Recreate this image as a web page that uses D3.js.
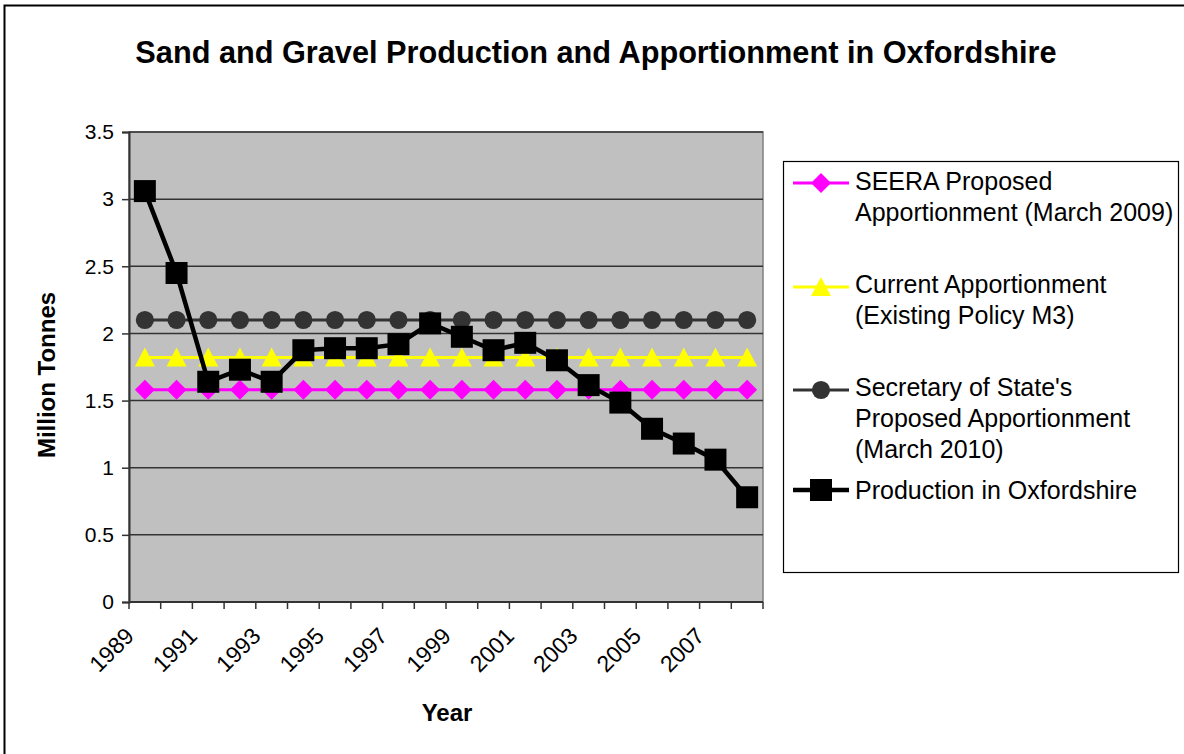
<!DOCTYPE html>
<html>
<head>
<meta charset="utf-8">
<script src="https://cdn.jsdelivr.net/npm/d3@7"></script>
<style>
  body { margin: 0; background: #fff; }
  text { font-family: "Liberation Sans", Arial, sans-serif; fill: #000; }
</style>
</head>
<body>
<svg width="1184" height="754"></svg>
<script>
// Years on the category axis
const years = d3.range(1989, 2009).map(String);

// Series values (million tonnes)
const seera = years.map(() => 1.58);
const current = years.map(() => 1.82);
const secState = years.map(() => 2.1);
const production = [3.06, 2.45, 1.64, 1.73, 1.64, 1.875, 1.89, 1.89, 1.92, 2.075,
                    1.975, 1.875, 1.93, 1.80, 1.615, 1.485, 1.29, 1.18, 1.06, 0.78];

const yTicks = [0, 0.5, 1, 1.5, 2, 2.5, 3, 3.5];
const xLabels = ["1989", "1991", "1993", "1995", "1997", "1999", "2001", "2003", "2005", "2007"];

const series = [
    { name: ["SEERA Proposed", "Apportionment (March 2009)"], values: seera, color: "#ff00ff", shape: "diamond", width: 3 },
    { name: ["Current Apportionment", "(Existing Policy M3)"], values: current, color: "#ffff00", shape: "triangle", width: 3 },
    { name: ["Secretary of State's", "Proposed Apportionment", "(March 2010)"], values: secState, color: "#333333", shape: "circle", width: 3 },
    { name: ["Production in Oxfordshire"], values: production, color: "#000000", shape: "square", width: 4.5 }
];

const svg = d3.select("svg");

// outer chart border (runs off the right and bottom edges)
svg.append("rect")
    .attr("x", 4.5).attr("y", 5.5)
    .attr("width", 1300).attr("height", 900)
    .attr("fill", "#fff")
    .attr("stroke", "#000")
    .attr("stroke-width", 2);

const plot = { left: 129, top: 132, right: 763, bottom: 602 };

const x = d3.scaleBand().domain(years).range([plot.left, plot.right]);
const y = d3.scaleLinear().domain([0, 3.5]).range([plot.bottom, plot.top]);

// plot background
svg.append("rect")
    .attr("x", plot.left).attr("y", plot.top)
    .attr("width", plot.right - plot.left).attr("height", plot.bottom - plot.top)
    .attr("fill", "#c0c0c0")
    .attr("stroke", "#808080")
    .attr("stroke-width", 1.5);

// gridlines
svg.append("g")
    .selectAll("line")
    .data(yTicks.slice(1))
    .join("line")
    .attr("x1", plot.left).attr("x2", plot.right)
    .attr("y1", d => y(d)).attr("y2", d => y(d))
    .attr("stroke", "#333")
    .attr("stroke-width", 1.5);

// y axis
const yAxis = svg.append("g")
    .attr("transform", `translate(${plot.left},0)`)
    .call(d3.axisLeft(y).tickValues(yTicks).tickSize(7).tickPadding(8).tickFormat(d3.format("")));
yAxis.select(".domain").attr("stroke", "#333").attr("stroke-width", 2);
yAxis.selectAll(".tick line").attr("stroke", "#333").attr("stroke-width", 1.5);
yAxis.selectAll("text").attr("font-size", 21).attr("font-family", "Liberation Sans, Arial, sans-serif");

// x axis: ticks at category boundaries
const xg = svg.append("g");
xg.append("line")
    .attr("x1", plot.left).attr("x2", plot.right)
    .attr("y1", plot.bottom).attr("y2", plot.bottom)
    .attr("stroke", "#333").attr("stroke-width", 2);
const bounds = years.map(d => x(d)).concat([x.range()[1]]);
xg.selectAll("line.tick")
    .data(bounds)
    .join("line")
    .attr("class", "tick")
    .attr("x1", d => d).attr("x2", d => d)
    .attr("y1", plot.bottom).attr("y2", plot.bottom + 7)
    .attr("stroke", "#333").attr("stroke-width", 1.5);
xg.selectAll("text")
    .data(xLabels)
    .join("text")
    .attr("font-size", 23)
    .attr("text-anchor", "end")
    .attr("transform", d => `translate(${x(d) + x.bandwidth() / 2 - 21},${plot.bottom + 24}) rotate(-45)`)
    .attr("dy", "0.7em")
    .text(d => d);

// lines and markers
const line = d3.line()
    .x((d, i) => x(years[i]) + x.bandwidth() / 2)
    .y(d => y(d));

const symbolType = {
    circle: d3.symbolCircle,
    square: d3.symbolSquare
};
const symbolSize = { circle: 260, square: 484 };

function drawMarker(g, s, cx, cy) {
    let d;
    if (s.shape === "diamond") d = "M0,-10L10,0L0,10L-10,0Z";
    else if (s.shape === "triangle") d = "M0,-10L10,9L-10,9Z";
    else d = d3.symbol(symbolType[s.shape], symbolSize[s.shape])();
    g.append("path")
        .attr("d", d)
        .attr("transform", `translate(${cx},${cy})`)
        .attr("fill", s.color);
}

series.forEach(s => {
    const g = svg.append("g");
    g.append("path")
        .datum(s.values)
        .attr("d", line)
        .attr("fill", "none")
        .attr("stroke", s.color)
        .attr("stroke-width", s.width);
    s.values.forEach((v, i) => drawMarker(g, s, x(years[i]) + x.bandwidth() / 2, y(v)));
});

// title
svg.append("text")
    .attr("x", 596).attr("y", 63)
    .attr("text-anchor", "middle")
    .attr("font-size", 30.7)
    .attr("font-weight", "bold")
    .text("Sand and Gravel Production and Apportionment in Oxfordshire");

// axis titles
svg.append("text")
    .attr("transform", "translate(55,375) rotate(-90)")
    .attr("text-anchor", "middle")
    .attr("font-size", 24)
    .attr("font-weight", "bold")
    .text("Million Tonnes");

svg.append("text")
    .attr("x", 447).attr("y", 721)
    .attr("text-anchor", "middle")
    .attr("font-size", 24)
    .attr("font-weight", "bold")
    .text("Year");

// legend
const legend = svg.append("g");
legend.append("rect")
    .attr("x", 783.5).attr("y", 161.5)
    .attr("width", 395).attr("height", 411)
    .attr("fill", "#fff")
    .attr("stroke", "#000")
    .attr("stroke-width", 1.2);

const legendMarks = [183, 287, 390, 490];
const legendBase = [190, 293, 396, 499];
series.forEach((s, k) => {
    const cy = legendMarks[k];
    legend.append("line")
        .attr("x1", 793).attr("x2", 849)
        .attr("y1", cy).attr("y2", cy)
        .attr("stroke", s.color)
        .attr("stroke-width", s.width);
    drawMarker(legend, s, 821, cy);
    s.name.forEach((t, j) => {
        legend.append("text")
            .attr("x", 855)
            .attr("y", legendBase[k] + j * 31)
            .attr("font-size", 25)
            .text(t);
    });
});
</script>
</body>
</html>
